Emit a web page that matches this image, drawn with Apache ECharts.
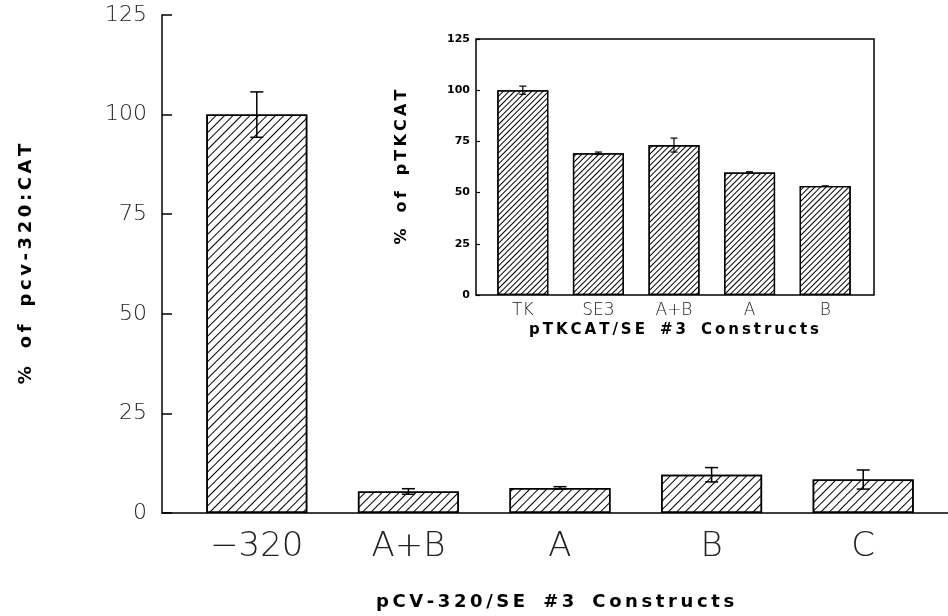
<!DOCTYPE html>
<html>
<head>
<meta charset="utf-8">
<script src="https://cdn.jsdelivr.net/npm/echarts@6/dist/echarts.min.js"></script>
<style>
  html, body { margin: 0; padding: 0; background: #fff; }
  #chart { width: 948px; height: 616px; }
</style>
</head>
<body>
<div id="chart"></div>
<script>
// main panel
const mainCats = ['\u2212320', 'A+B', 'A', 'B', 'C']
const mainVals = [100, 5.4, 6.3, 9.6, 8.4]
const mainErr = [5.7, 0.7, 0.3, 1.8, 2.4]

// inset panel
const insetCats = ['TK', 'SE3', 'A+B', 'A', 'B']
const insetVals = [100, 69.2, 73.2, 59.8, 53.2]
const insetErr = [2.0, 0.6, 3.4, 0.4, 0]

const yTicks = [0, 25, 50, 75, 100, 125]

// wide letter spacing like the typewriter-ish labels of the original
const spaced = s => s.split(' ').map(w => w.split('').join('\u2009')).join('\u2002\u2002')

const errData = (vals, errs) => vals.map((v, i) => [i, v - errs[i], v + errs[i]])

const errRender = (capHalf, width) => (params, api) => {
  const lo = api.coord([api.value(0), api.value(1)])
  const hi = api.coord([api.value(0), api.value(2)])
  const st = { stroke: '#000', lineWidth: width }
  return {
    type: 'group',
    children: [
      { type: 'line', shape: { x1: hi[0], y1: hi[1], x2: lo[0], y2: lo[1] }, style: st },
      { type: 'line', shape: { x1: hi[0] - capHalf, y1: hi[1], x2: hi[0] + capHalf, y2: hi[1] }, style: st },
      { type: 'line', shape: { x1: lo[0] - capHalf, y1: lo[1], x2: lo[0] + capHalf, y2: lo[1] }, style: st },
    ],
  }
}

// "/" hatching
const hatch = (gap, w) => ({
  symbol: 'rect',
  symbolSize: 1,
  dashArrayX: [1, 0],
  dashArrayY: [w, gap],
  rotation: -Math.PI / 4,
  color: '#000',
})

const thin = { fontFamily: 'DejaVu Sans', fontWeight: 200, color: '#222' }
const boldTitle = { fontFamily: 'DejaVu Sans', fontWeight: 'bold', color: '#000' }

const chart = echarts.init(document.getElementById('chart'))
chart.setOption({
  backgroundColor: '#fff',
  animation: false,
  grid: [
    { left: 181, right: 9, top: 15, bottom: 103 },   // main bars
    { left: 162, right: 0, top: 15, bottom: 103 },   // main baseline
    { left: 485, right: 85, top: 39, bottom: 321 },  // inset bars
    { left: 476, right: 74, top: 39, bottom: 321, show: true, borderColor: '#000', borderWidth: 1.5, backgroundColor: 'transparent' },
  ],
  xAxis: [
    {
      gridIndex: 0, type: 'category', data: mainCats,
      axisLine: { show: false }, axisTick: { show: false },
      axisLabel: { ...thin, fontSize: 34, margin: 17 },
    },
    {
      gridIndex: 1, type: 'value', min: 0, max: 1,
      axisLine: { lineStyle: { color: '#000', width: 1.5 } },
      axisTick: { show: false }, axisLabel: { show: false }, splitLine: { show: false },
      name: spaced('pCV-320/SE #3 Constructs'), nameLocation: 'middle', nameGap: 80,
      nameTextStyle: { ...boldTitle, fontSize: 18 },
    },
    {
      gridIndex: 2, type: 'category', data: insetCats,
      axisLine: { show: false }, axisTick: { show: false },
      axisLabel: { ...thin, fontSize: 17, margin: 7 },
      name: spaced('pTKCAT/SE #3 Constructs'), nameLocation: 'middle', nameGap: 28,
      nameTextStyle: { ...boldTitle, fontSize: 15 },
    },
    { gridIndex: 3, type: 'value', show: false, min: 0, max: 1 },
  ],
  yAxis: [
    {
      gridIndex: 0, type: 'value', min: 0, max: 125, interval: 25, offset: 19,
      axisLine: { show: true, lineStyle: { color: '#000', width: 1.5 } },
      axisTick: { show: true, inside: true, length: 10, lineStyle: { color: '#000', width: 1.5 } },
      axisLabel: { ...thin, fontSize: 22, margin: 15,
        formatter: v => (yTicks.includes(v) ? String(v) : '') },
      splitLine: { show: false },
      name: spaced('% of pcv-320:CAT'), nameLocation: 'middle', nameGap: 127, nameRotate: 90,
      nameTextStyle: { ...boldTitle, fontSize: 18 },
    },
    { gridIndex: 1, type: 'value', show: false, min: 0, max: 1 },
    {
      gridIndex: 2, type: 'value', min: 0, max: 125, interval: 25, offset: 9,
      axisLine: { show: false },
      axisTick: { show: true, inside: true, length: 4, lineStyle: { color: '#000', width: 1.2 } },
      axisLabel: { fontFamily: 'DejaVu Sans', fontWeight: 'bold', fontSize: 11, color: '#000', margin: 6 },
      splitLine: { show: false },
      name: spaced('% of pTKCAT'), nameLocation: 'middle', nameGap: 66, nameRotate: 90,
      nameTextStyle: { ...boldTitle, fontSize: 16 },
    },
    { gridIndex: 3, type: 'value', show: false, min: 0, max: 1 },
  ],
  series: [
    {
      type: 'bar', xAxisIndex: 0, yAxisIndex: 0, data: mainVals, barWidth: 101,
      itemStyle: { color: '#fff', borderColor: '#000', borderWidth: 1.5, decal: hatch(4.5, 1) },
    },
    {
      type: 'custom', xAxisIndex: 0, yAxisIndex: 0, data: errData(mainVals, mainErr),
      renderItem: errRender(6.5, 1.5), z: 5,
    },
    {
      type: 'bar', xAxisIndex: 2, yAxisIndex: 2, data: insetVals, barWidth: 51,
      itemStyle: { color: '#fff', borderColor: '#000', borderWidth: 1.3, decal: hatch(2.4, 0.9) },
    },
    {
      type: 'custom', xAxisIndex: 2, yAxisIndex: 2, data: errData(insetVals, insetErr),
      renderItem: errRender(3.5, 1.2), z: 5,
    },
  ],
})
</script>
</body>
</html>
